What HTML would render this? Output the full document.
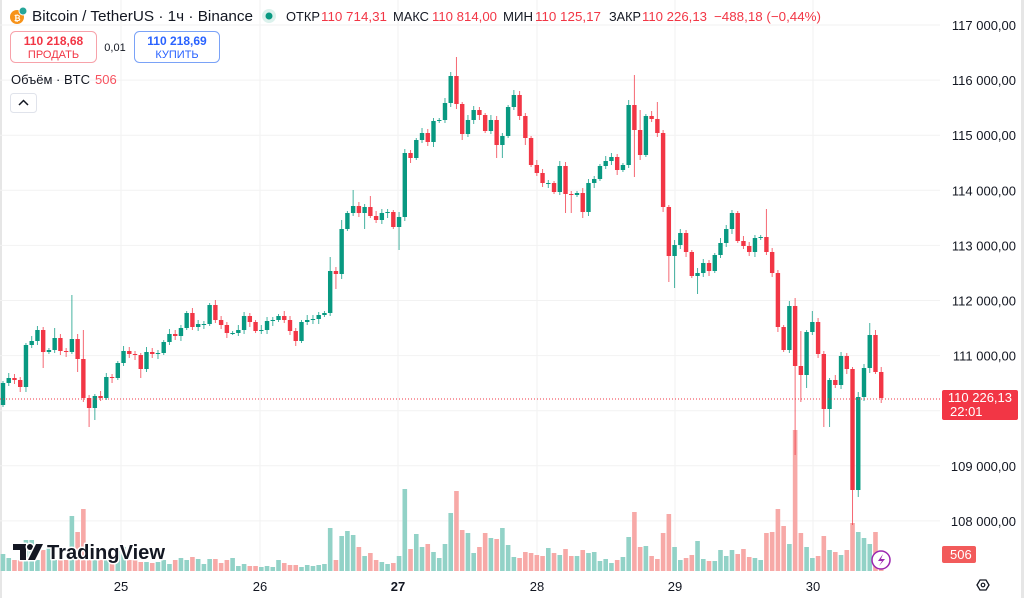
<!DOCTYPE html>
<html><head><meta charset="utf-8">
<style>
html,body{margin:0;padding:0;background:#fff;}
body{width:1024px;height:598px;overflow:hidden;font-family:"Liberation Sans",sans-serif;}
svg text{font-family:"Liberation Sans",sans-serif;}
</style></head>
<body>
<svg id="s" width="1024" height="598" viewBox="0 0 1024 598" xmlns="http://www.w3.org/2000/svg">
<rect width="1024" height="598" fill="#fff"/>
<rect x="0" y="0" width="2" height="598" fill="#e6e6e6"/>
<rect x="1021" y="0" width="3" height="598" fill="#e6e6e6"/>
<g id="grid" stroke="#f2f2f2" stroke-width="1"></g>
<g id="vol"></g>
<g id="cnd"></g>
<line x1="0" y1="399" x2="940" y2="399" stroke="#f23645" stroke-width="1" stroke-dasharray="1,2"/>
<g font-size="13" fill="#131722" text-anchor="end" id="ax"></g>
<rect x="942" y="390" width="76" height="30" rx="2" fill="#f23645"/>
<text x="1012" y="402" font-size="13" fill="#fff" text-anchor="end">110 226,13</text>
<text x="950" y="416" font-size="13" fill="#fff">22:01</text>
<rect x="942" y="546" width="34" height="17" rx="2" fill="#f25b5b"/>
<text x="950" y="559" font-size="13" fill="#fff">506</text>
<polygon points="977,585 980,580 986,580 989,585 986,590 980,590" fill="none" stroke="#131722" stroke-width="1.3"/>
<circle cx="983" cy="585" r="1.8" fill="none" stroke="#131722" stroke-width="1.2"/>
<g font-size="13" fill="#131722" text-anchor="middle">
<text x="121" y="591">25</text><text x="260" y="591">26</text>
<text x="398" y="591" font-weight="bold">27</text><text x="537" y="591">28</text>
<text x="675" y="591">29</text><text x="813" y="591">30</text>
</g>
<circle cx="881" cy="560" r="9" fill="#fff" stroke="#9c27b0" stroke-width="1.5"/>
<path d="M883,554 L878,561 L882,561 L879,566 L885,559 L881,559 Z" fill="#9c27b0"/>
<g fill="#131722" stroke="#fff" stroke-width="3" paint-order="stroke" stroke-linejoin="round">
<path d="M13,544 H26 V560 H20 V550 H13 Z"/>
<circle cx="30" cy="547" r="3"/>
<path d="M36,544 H43 L35,560 H28 Z"/>
<text x="47" y="559" font-size="20" font-weight="bold" textLength="118" lengthAdjust="spacingAndGlyphs">TradingView</text>
</g>
<circle cx="17" cy="17" r="7" fill="#f7931a"/>
<circle cx="23" cy="11" r="4" fill="#26a69a" stroke="#fff" stroke-width="1"/>
<text x="14" y="21" font-size="8" fill="#fff" font-weight="bold">₿</text>
<text x="32" y="21" font-size="15" fill="#131722" textLength="221" lengthAdjust="spacingAndGlyphs">Bitcoin / TetherUS · 1ч · Binance</text>
<circle cx="269" cy="16" r="7" fill="#dbf1ec"/>
<circle cx="269" cy="16" r="3.5" fill="#089981"/>
<g font-size="13">
<text x="286" y="21" fill="#131722" textLength="34" lengthAdjust="spacingAndGlyphs">ОТКР</text>
<text x="321" y="21" fill="#f23645" textLength="66" lengthAdjust="spacingAndGlyphs">110 714,31</text>
<text x="393" y="21" fill="#131722" textLength="36" lengthAdjust="spacingAndGlyphs">МАКС</text>
<text x="432" y="21" fill="#f23645" textLength="65" lengthAdjust="spacingAndGlyphs">110 814,00</text>
<text x="503" y="21" fill="#131722" textLength="30" lengthAdjust="spacingAndGlyphs">МИН</text>
<text x="535" y="21" fill="#f23645" textLength="66" lengthAdjust="spacingAndGlyphs">110 125,17</text>
<text x="609" y="21" fill="#131722" textLength="32" lengthAdjust="spacingAndGlyphs">ЗАКР</text>
<text x="642" y="21" fill="#f23645" textLength="65" lengthAdjust="spacingAndGlyphs">110 226,13</text>
<text x="714" y="21" fill="#f23645" textLength="107" lengthAdjust="spacingAndGlyphs">−488,18 (−0,44%)</text>
</g>
<rect x="10.5" y="31.5" width="86" height="31" rx="5" fill="#fff" stroke="#f7a2aa"/>
<text x="53.5" y="45" font-size="12" font-weight="bold" fill="#f23645" text-anchor="middle">110 218,68</text>
<text x="53.5" y="58" font-size="11" fill="#f23645" text-anchor="middle">ПРОДАТЬ</text>
<text x="115" y="51" font-size="11" fill="#131722" text-anchor="middle">0,01</text>
<rect x="134.5" y="31.5" width="85" height="31" rx="5" fill="#fff" stroke="#7aa2f7"/>
<text x="177" y="45" font-size="12" font-weight="bold" fill="#2962ff" text-anchor="middle">110 218,69</text>
<text x="177" y="58" font-size="11" fill="#2962ff" text-anchor="middle">КУПИТЬ</text>
<text x="11" y="84" font-size="13" fill="#131722">Объём · BTC</text>
<text x="95" y="84" font-size="13" fill="#f7525f">506</text>
<rect x="10.5" y="93.5" width="26" height="19" rx="3" fill="#fff" stroke="#e0e3eb"/>
<path d="M19,105 L23.5,100.5 L28,105" fill="none" stroke="#131722" stroke-width="1.5"/>
</svg>
<script>
(function(){
var NS="http://www.w3.org/2000/svg";
function el(p,t,a){var e=document.createElementNS(NS,t);for(var k in a)e.setAttribute(k,a[k]);p.appendChild(e);return e;}
var grid=document.getElementById('grid'),ax=document.getElementById('ax');
var labels=["117 000,00","116 000,00","115 000,00","114 000,00","113 000,00","112 000,00","111 000,00","110 000,00","109 000,00","108 000,00"];
for(var k=0;k<10;k++){var yy=25+k*55.1;el(grid,'line',{x1:0,x2:940,y1:yy,y2:yy});
 if(k!=7){var t=el(ax,'text',{x:1016,y:yy+5});t.textContent=labels[k];}}
[121,260,398,537,675,813].forEach(function(x){el(grid,'line',{x1:x,x2:x,y1:0,y2:571});});
var c=[383,378,380,387,345,341,330,352,350,338,351,352,339,359,398,408,396,398,377,378,363,351,354,355,369,352,354,353,342,334,336,328,313,327,324,324,305,320,325,333,333,330,316,322,331,330,321,320,316,320,331,341,322,320,319,315,313,271,274,229,213,206,213,207,216,220,213,212,227,217,153,158,140,133,142,121,120,103,76,104,134,120,110,115,131,120,145,136,107,95,116,138,165,173,183,183,192,166,194,195,193,212,183,179,166,161,157,170,165,105,130,155,116,119,133,207,256,245,233,252,276,273,263,271,255,243,229,213,241,246,252,238,237,252,273,327,350,306,366,375,332,322,354,409,380,385,356,369,490,397,368,335,372,398];
var v=[17,13,11,11,31,31,11,21,24,11,11,11,55,39,62,11,11,11,14,16,20,24,11,11,9,9,8,9,11,7,11,13,11,14,12,7,12,12,8,11,13,5,7,5,5,4,5,4,11,8,6,6,4,6,5,6,7,43,11,35,40,36,24,15,18,11,9,7,8,15,82,22,37,24,27,19,13,27,58,80,41,38,18,24,38,33,32,43,26,14,13,19,18,16,15,23,18,16,22,15,15,21,18,19,10,12,8,11,14,34,59,24,25,15,12,38,57,24,11,13,16,30,12,10,10,21,15,21,17,22,14,13,11,38,39,62,45,27,141,38,24,13,15,35,21,19,16,21,48,39,33,27,39,10];
var W={12:[295,0],14:[330,0],15:[0,427],16:[0,420],9:[328,0],24:[0,378],36:[303,0],57:[257,0],58:[0,289],59:[220,0],61:[190,0],63:[0,229],64:[196,0],69:[0,250],79:[57,0],80:[0,140],86:[0,158],87:[0,158],91:[0,145],98:[0,213],99:[0,213],101:[0,218],110:[75,177],111:[110,0],114:[102,0],116:[0,282],117:[0,288],121:[0,294],133:[209,0],138:[298,455],139:[331,402],140:[0,388],141:[311,0],143:[0,427],144:[0,427],148:[0,525],149:[0,497],151:[323,0],152:[330,0],153:[0,403],4:[0,392],7:[0,368],13:[0,372],18:[0,400]};
var G="#089981",R="#f23645",VG="#92d2c7",VR="#f7a9a7";
var cg=document.getElementById('cnd'),vg=document.getElementById('vol');
var o=405;
for(var i=0;i<c.length;i++){
 var x=3+i*5.74,cl=c[i];var up=cl<=o;var col=up?G:R;
 var bt=Math.min(o,cl),bb=Math.max(o,cl);
 var hi=bt-2-(i*7%4),lo=bb+2+(i*5%4);
 if(W[i]){if(W[i][0])hi=W[i][0];if(W[i][1])lo=W[i][1];}
 el(vg,'rect',{x:x-2.3,y:571-v[i],width:4.6,height:v[i],fill:up?VG:VR});
 el(cg,'line',{x1:x,x2:x,y1:hi,y2:lo,stroke:col,'stroke-width':1,opacity:0.75});
 el(cg,'rect',{x:x-2.2,y:bt,width:4.4,height:Math.max(1,bb-bt),fill:col});
 o=cl;
}
})();
</script>
</body></html>
